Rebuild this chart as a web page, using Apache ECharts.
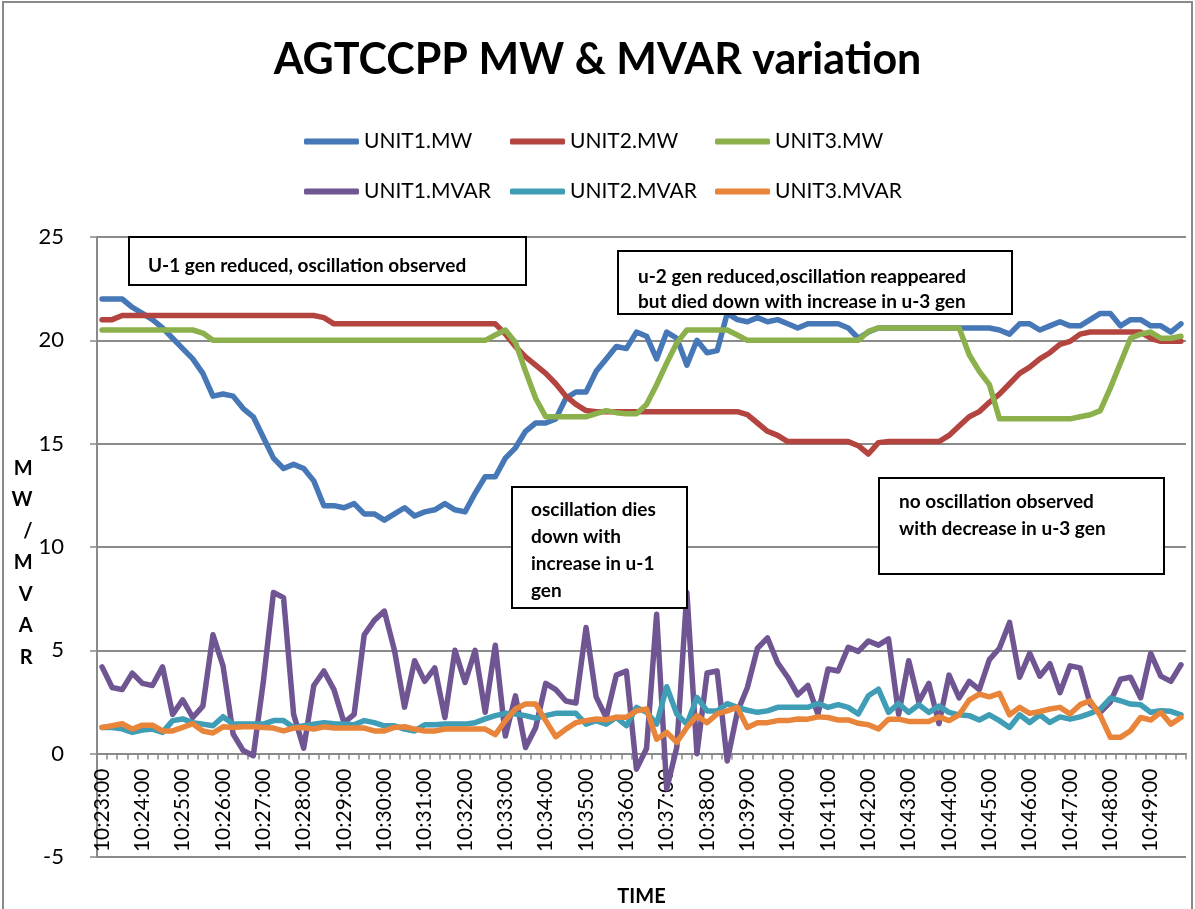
<!DOCTYPE html>
<html>
<head>
<meta charset="utf-8">
<title>AGTCCPP MW & MVAR variation</title>
<script src="https://cdn.jsdelivr.net/npm/echarts@6/dist/echarts.min.js"></script>
<style>
  html, body { margin: 0; padding: 0; background: #fff; }
  #main { width: 1195px; height: 909px; }
</style>
</head>
<body>
<div id="main"></div>
<script>
// samples every 15 s starting 10:23:00
var times = [];
for (var i = 0; i < 108; i++) {
  var s = 23 * 60 + i * 15;
  var mm = Math.floor(s / 60), ss = s % 60;
  times.push('10:' + (mm < 10 ? '0' : '') + mm + ':' + (ss < 10 ? '0' : '') + ss);
}

var unit1MW = [22.0,22.0,22.0,21.6,21.3,21.0,20.6,20.1,19.6,19.1,
  18.4,17.3,17.4,17.3,16.7,16.3,15.3,14.3,13.8,14.0,
  13.8,13.2,12.0,12.0,11.9,12.1,11.6,11.6,11.3,11.6,
  11.9,11.5,11.7,11.8,12.1,11.8,11.7,12.6,13.4,13.4,
  14.3,14.8,15.6,16.0,16.0,16.2,17.2,17.5,17.5,18.5,
  19.1,19.7,19.6,20.4,20.2,19.1,20.4,20.1,18.8,20.0,
  19.4,19.5,21.3,21.0,20.9,21.1,20.9,21.0,20.8,20.6,
  20.8,20.8,20.8,20.8,20.6,20.1,20.4,20.6,20.6,20.6,
  20.6,20.6,20.6,20.6,20.6,20.6,20.6,20.6,20.6,20.5,
  20.3,20.8,20.8,20.5,20.7,20.9,20.7,20.7,21.0,21.3,
  21.3,20.7,21.0,21.0,20.7,20.7,20.4,20.8];

var unit2MW = [21.0,21.0,21.2,21.2,21.2,21.2,21.2,21.2,21.2,21.2,
  21.2,21.2,21.2,21.2,21.2,21.2,21.2,21.2,21.2,21.2,
  21.2,21.2,21.1,20.8,20.8,20.8,20.8,20.8,20.8,20.8,
  20.8,20.8,20.8,20.8,20.8,20.8,20.8,20.8,20.8,20.8,
  20.3,19.7,19.2,18.8,18.4,17.9,17.3,16.9,16.6,16.55,
  16.55,16.55,16.55,16.55,16.55,16.55,16.55,16.55,16.55,16.55,
  16.55,16.55,16.55,16.55,16.4,16.0,15.6,15.4,15.1,15.1,
  15.1,15.1,15.1,15.1,15.1,14.9,14.5,15.05,15.1,15.1,
  15.1,15.1,15.1,15.1,15.4,15.85,16.3,16.55,17.0,17.4,
  17.9,18.4,18.7,19.1,19.4,19.8,19.95,20.3,20.4,20.4,
  20.4,20.4,20.4,20.4,20.1,19.95,19.95,19.95];

var unit3MW = [20.5,20.5,20.5,20.5,20.5,20.5,20.5,20.5,20.5,20.5,
  20.35,20.0,20.0,20.0,20.0,20.0,20.0,20.0,20.0,20.0,
  20.0,20.0,20.0,20.0,20.0,20.0,20.0,20.0,20.0,20.0,
  20.0,20.0,20.0,20.0,20.0,20.0,20.0,20.0,20.0,20.26,
  20.5,19.9,18.5,17.2,16.3,16.3,16.3,16.3,16.3,16.45,
  16.6,16.5,16.45,16.45,16.9,17.85,18.9,19.87,20.5,20.5,
  20.5,20.5,20.5,20.26,20.0,20.0,20.0,20.0,20.0,20.0,
  20.0,20.0,20.0,20.0,20.0,20.0,20.43,20.6,20.6,20.6,
  20.6,20.6,20.6,20.6,20.6,20.6,19.3,18.5,17.86,16.2,
  16.2,16.2,16.2,16.2,16.2,16.2,16.2,16.3,16.4,16.6,
  17.7,18.9,20.1,20.3,20.4,20.1,20.1,20.2];

var unit1MVAR = [4.2,3.2,3.1,3.9,3.4,3.3,4.2,1.9,2.6,1.75,
  2.3,5.75,4.25,0.95,0.15,-0.1,3.5,7.8,7.55,1.9,
  0.27,3.3,4.0,3.1,1.5,1.9,5.75,6.45,6.9,5.0,
  2.25,4.5,3.5,4.15,1.75,5.0,3.45,5.0,2.0,5.25,
  0.85,2.8,0.3,1.25,3.4,3.1,2.55,2.45,6.1,2.75,
  1.75,3.8,4.0,-0.75,0.25,6.75,-1.7,0.3,7.8,0.0,
  3.9,4.0,-0.35,2.0,3.2,5.1,5.6,4.4,3.7,2.85,
  3.3,1.9,4.1,4.0,5.15,4.95,5.45,5.25,5.55,1.9,
  4.5,2.5,3.4,1.45,3.8,2.7,3.5,3.1,4.55,5.1,
  6.35,3.7,4.85,3.75,4.35,2.95,4.25,4.15,2.4,2.0,
  2.5,3.6,3.7,2.7,4.85,3.75,3.5,4.3];

var unit2MVAR = [1.27,1.27,1.2,1.03,1.14,1.19,1.03,1.6,1.68,1.5,
  1.43,1.35,1.79,1.43,1.43,1.43,1.43,1.6,1.6,1.27,
  1.35,1.43,1.5,1.45,1.43,1.4,1.6,1.5,1.35,1.35,
  1.19,1.1,1.4,1.4,1.43,1.43,1.43,1.5,1.68,1.84,
  1.95,1.92,1.84,1.72,1.84,1.95,1.95,1.95,1.43,1.6,
  1.43,1.76,1.35,2.24,2.0,1.43,3.24,1.92,1.43,2.72,
  2.07,2.07,2.42,2.24,2.1,2.0,2.07,2.24,2.24,2.24,
  2.24,2.43,2.24,2.37,2.24,1.92,2.8,3.12,2.0,2.43,
  2.0,2.37,2.0,2.3,2.0,1.88,1.84,1.63,1.88,1.6,
  1.27,1.88,1.51,1.88,1.51,1.78,1.67,1.78,1.95,2.16,
  2.69,2.56,2.4,2.37,2.0,2.08,2.05,1.88];

var unit3MVAR = [1.27,1.35,1.45,1.19,1.38,1.38,1.1,1.1,1.27,1.45,
  1.1,1.0,1.3,1.27,1.3,1.3,1.27,1.24,1.1,1.24,
  1.27,1.19,1.3,1.24,1.24,1.24,1.24,1.1,1.1,1.27,
  1.3,1.19,1.1,1.1,1.19,1.19,1.19,1.19,1.19,0.92,
  1.6,2.16,2.4,2.4,1.6,0.82,1.19,1.5,1.6,1.68,
  1.64,1.76,1.76,2.07,2.16,0.7,1.03,0.55,1.27,1.84,
  1.5,1.92,2.07,2.24,1.27,1.5,1.5,1.6,1.6,1.68,
  1.67,1.78,1.75,1.63,1.63,1.47,1.4,1.19,1.67,1.67,
  1.56,1.56,1.56,1.78,1.6,1.88,2.59,2.88,2.75,2.92,
  1.88,2.24,1.95,2.04,2.16,2.24,1.92,2.37,2.56,1.84,
  0.79,0.79,1.11,1.75,1.63,2.0,1.43,1.75];

var seriesNames = ['UNIT1.MW', 'UNIT2.MW', 'UNIT3.MW', 'UNIT1.MVAR', 'UNIT2.MVAR', 'UNIT3.MVAR'];
var seriesData = [unit1MW, unit2MW, unit3MW, unit1MVAR, unit2MVAR, unit3MVAR];
var colors = ['#4677b6', '#b4443f', '#8cb04c', '#6f5592', '#3f9db6', '#e8853a'];

var FONT = 'Lato, "Open Sans", sans-serif';
var GRID = '#8a8a8a';

var chart = echarts.init(document.getElementById('main'));

// legend: 3 columns x 2 rows like the Excel layout
var legendLeft = [299, 505, 710];
var legendTop = [126, 176];
var legends = seriesNames.map(function (n, k) {
  return {
    data: [{ name: n, icon: 'roundRect' }],
    left: legendLeft[k % 3],
    top: legendTop[Math.floor(k / 3)],
    itemWidth: 55,
    itemHeight: 6,
    itemGap: 0,
    selectedMode: false,
    textStyle: { fontFamily: FONT, fontSize: 21, color: '#000' }
  };
});

// annotation boxes
function note(x, y, w, h, lines, tx, ty, lh) {
  return [
    { type: 'rect', z: 100, shape: { x: x, y: y, width: w, height: h },
      style: { fill: '#fff', stroke: '#000', lineWidth: 2 } },
    { type: 'text', z: 101, x: tx, y: ty,
      style: { text: lines.join('\n'), fill: '#000', font: 'bold 19px ' + FONT,
               lineHeight: lh, verticalAlign: 'top' } }
  ];
}

var option = {
  animation: false,
  backgroundColor: '#fff',
  color: colors,
  title: {
    text: 'AGTCCPP MW & MVAR variation',
    left: 'center',
    top: 34,
    textStyle: { fontFamily: FONT, fontWeight: 'bold', fontSize: 43, color: '#000' }
  },
  legend: legends,
  grid: { left: 97, right: 9, top: 237, bottom: 52, outerBoundsMode: 'none', containLabel: false },
  xAxis: {
    type: 'category',
    data: times,
    boundaryGap: true,
    // axis crosses the value axis at 0 (Excel style), labels just below it
    offset: -103.5,
    name: 'TIME',
    nameLocation: 'middle',
    nameGap: 133,
    nameTextStyle: { fontFamily: FONT, fontWeight: 'bold', fontSize: 20, color: '#000' },
    axisLine: { onZero: false, lineStyle: { color: GRID, width: 2 } },
    axisTick: { show: true, interval: 0, length: 6, lineStyle: { color: GRID, width: 1.5 } },
    axisLabel: { interval: 3, rotate: 90, margin: 15, fontFamily: FONT, fontSize: 21, color: '#000' },
    splitLine: { show: false }
  },
  yAxis: {
    type: 'value',
    min: -5,
    max: 25,
    interval: 5,
    name: '\nM\nW\n/\nM\nV\nA\nR',
    nameLocation: 'middle',
    nameRotate: 0,
    nameGap: 63,
    nameTextStyle: { fontFamily: FONT, fontWeight: 'bold', fontSize: 20, color: '#000',
                     lineHeight: 31.5 },
    axisLine: { show: true, lineStyle: { color: GRID, width: 2 } },
    axisTick: { show: true, length: 7, lineStyle: { color: GRID, width: 1.5 } },
    axisLabel: { margin: 33, fontFamily: FONT, fontSize: 22, color: '#000' },
    splitLine: { show: true, lineStyle: { color: GRID, width: 2 } }
  },
  series: seriesNames.map(function (n, k) {
    return {
      name: n,
      type: 'line',
      data: seriesData[k],
      symbol: 'none',
      smooth: false,
      lineStyle: { width: 5.5, color: colors[k], join: 'round', cap: 'round' },
      itemStyle: { color: colors[k] }
    };
  }),
  graphic: [
    // chart outer border
    { type: 'rect', z: -1, silent: true, shape: { x: 3, y: 2, width: 1189, height: 912 },
      style: { fill: 'none', stroke: '#8a8a8a', lineWidth: 2 } }
  ].concat(
    note(129, 237, 397, 48, ['U-1 gen reduced, oscillation observed'], 148, 253, 25),
    note(618, 251, 394, 63, ['u-2 gen reduced,oscillation reappeared',
                              'but died down with increase in u-3 gen'], 638, 264, 25),
    note(512, 487, 175, 121, ['oscillation dies', 'down with', 'increase in u-1', 'gen'], 531, 497, 26.7),
    note(879, 478, 285, 96, ['no oscillation observed', 'with decrease in u-3 gen'], 899, 489, 26.5)
  )
};

chart.setOption(option);
</script>
</body>
</html>
